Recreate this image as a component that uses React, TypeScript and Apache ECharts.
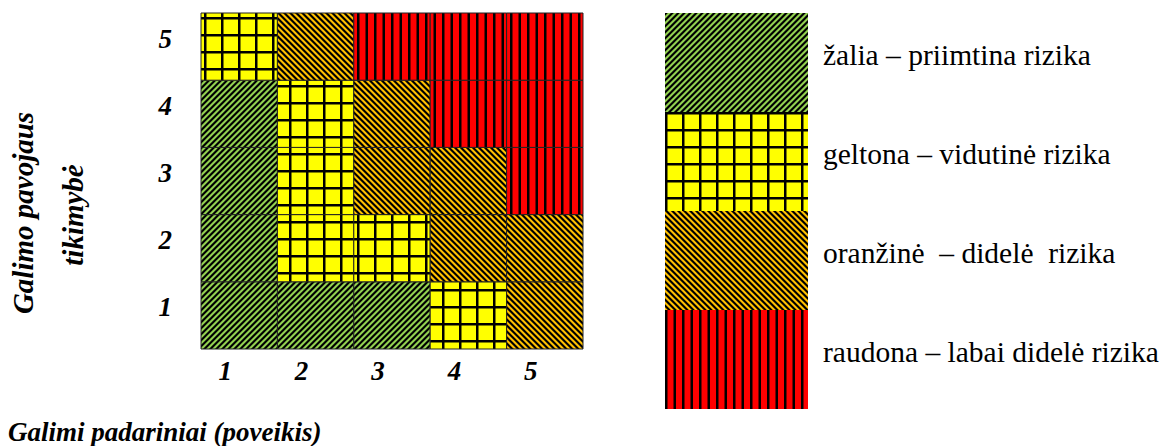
import React, { useEffect, useRef } from "react";
import * as echarts from "echarts";

// Categories (impact on x, probability on y)
const impactLabels = ["1", "2", "3", "4", "5"];
const probabilityLabels = ["1", "2", "3", "4", "5"];

// Risk level per cell, row by probability (1 = bottom), column by impact
// 1 = green, 2 = yellow, 3 = orange, 4 = red
const probRow1 = [1, 1, 1, 2, 3];
const probRow2 = [1, 2, 2, 3, 3];
const probRow3 = [1, 2, 3, 3, 4];
const probRow4 = [1, 2, 3, 4, 4];
const probRow5 = [2, 3, 4, 4, 4];
const riskRows = [probRow1, probRow2, probRow3, probRow4, probRow5];

const levelNames = [
  "žalia – priimtina rizika",
  "geltona – vidutinė rizika",
  "oranžinė  – didelė  rizika",
  "raudona – labai didelė rizika",
];

const yTitle1 = "Galimo pavojaus";
const yTitle2 = "tikimybė";
const xTitle = "Galimi padariniai (poveikis)";

const FONT = "Liberation Serif";

type Cov = (x: number, y: number) => boolean;

function makePattern(size: number, bg: [number, number, number], ink: [number, number, number], inside: Cov) {
  const canvas = document.createElement("canvas");
  canvas.width = size;
  canvas.height = size;
  const ctx = canvas.getContext("2d")!;
  const img = ctx.createImageData(size, size);
  const ss = 4;
  for (let py = 0; py < size; py++) {
    for (let px = 0; px < size; px++) {
      let hit = 0;
      for (let sy = 0; sy < ss; sy++) {
        for (let sx = 0; sx < ss; sx++) {
          if (inside(px + (sx + 0.5) / ss, py + (sy + 0.5) / ss)) hit++;
        }
      }
      const t = hit / (ss * ss);
      const i = (py * size + px) * 4;
      img.data[i] = Math.round(bg[0] * (1 - t) + ink[0] * t);
      img.data[i + 1] = Math.round(bg[1] * (1 - t) + ink[1] * t);
      img.data[i + 2] = Math.round(bg[2] * (1 - t) + ink[2] * t);
      img.data[i + 3] = 255;
    }
  }
  ctx.putImageData(img, 0, 0);
  return { image: canvas, repeat: "repeat", imageWidth: size, imageHeight: size } as any;
}

function mod(a: number, n: number) {
  return ((a % n) + n) % n;
}

export default function App() {
  const ref = useRef<HTMLDivElement>(null);

  useEffect(() => {
    if (!ref.current) return;
    const chart = echarts.init(ref.current, null, { renderer: "svg" });
    const black: [number, number, number] = [0, 0, 0];

    const patterns = [
      makePattern(6, [146, 208, 80], black, (x, y) => mod(x + y, 6) < 2.9),
      makePattern(17, [255, 255, 0], black, (x, y) => mod(x, 17) < 2.5 || mod(y, 17) < 2.5),
      makePattern(6, [255, 192, 0], black, (x, y) => mod(x - y, 6) < 2.9),
      makePattern(17, [255, 0, 0], black, (x) => mod(x, 8.5) < 2.5),
    ];

    const seriesData: number[][][] = [[], [], [], []];
    riskRows.forEach((row, yi) => {
      row.forEach((lvl, xi) => {
        seriesData[lvl - 1].push([xi, yi]);
      });
    });

    const digitStyle = {
      fontFamily: FONT,
      fontStyle: "italic" as const,
      fontWeight: "bold" as const,
      fontSize: 27,
      color: "#000",
    };

    const titleStyle = {
      fontFamily: FONT,
      fontStyle: "italic",
      fontWeight: "bold",
      fill: "#000",
    };

    chart.setOption({
      animation: false,
      backgroundColor: "#fff",
      grid: { left: 201, top: 13, width: 382, height: 336 },
      xAxis: {
        type: "category",
        data: impactLabels,
        axisLine: { show: false },
        axisTick: { show: false },
        splitLine: { show: false },
        axisLabel: { ...digitStyle, margin: 8, padding: [0, 28, 0, 0] },
      },
      yAxis: {
        type: "category",
        data: probabilityLabels,
        axisLine: { show: false },
        axisTick: { show: false },
        splitLine: { show: false },
        axisLabel: {
          ...digitStyle,
          margin: 29,
          formatter: (v: string) => "{d|" + v + "}",
          rich: { d: { ...digitStyle, padding: [0, 0, 16, 0] } },
        },
      },
      legend: {
        orient: "vertical",
        left: 665,
        top: 13,
        padding: 0,
        itemWidth: 143,
        itemHeight: 99,
        itemGap: 0,
        icon: "rect",
        selectedMode: false,
        data: levelNames,
        formatter: (name: string) => "{t|" + name + "}",
        textStyle: {
          fontFamily: FONT,
          fontSize: 29.5,
          color: "#000",
          rich: {
            t: {
              fontFamily: FONT,
              fontSize: 29.5,
              color: "#000",
              padding: [0, 0, 16, 10],
            },
          },
        },
      },
      graphic: [
        {
          type: "text",
          x: 23,
          y: 213,
          rotation: Math.PI / 2,
          style: { ...titleStyle, fontSize: 29, text: yTitle1, align: "center", verticalAlign: "middle" },
        },
        {
          type: "text",
          x: 73,
          y: 215,
          rotation: Math.PI / 2,
          style: { ...titleStyle, fontSize: 29, text: yTitle2, align: "center", verticalAlign: "middle" },
        },
        {
          type: "text",
          x: 8,
          y: 432,
          style: { ...titleStyle, fontSize: 27, text: xTitle, align: "left", verticalAlign: "middle" },
        },
      ],
      series: levelNames.map((name, li) => ({
        type: "custom",
        name,
        data: seriesData[li],
        encode: { x: 0, y: 1 },
        itemStyle: { color: patterns[li] },
        renderItem: (params: any, api: any) => {
          const c = api.coord([api.value(0), api.value(1)]);
          const s = api.size([1, 1]);
          return {
            type: "rect",
            shape: { x: c[0] - s[0] / 2, y: c[1] - s[1] / 2, width: s[0], height: s[1] },
            style: { fill: patterns[li], stroke: "#222", lineWidth: 1 },
          };
        },
      })),
    });

    return () => chart.dispose();
  }, []);

  return (
    <div
      ref={ref}
      style={{ position: "absolute", left: 0, top: 0, width: 1173, height: 446 }}
    />
  );
}
